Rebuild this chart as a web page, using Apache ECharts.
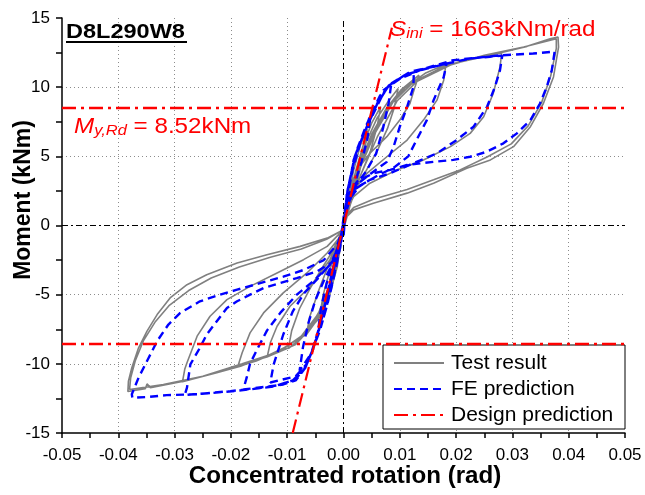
<!DOCTYPE html>
<html>
<head>
<meta charset="utf-8">
<script src="https://cdn.jsdelivr.net/npm/echarts@6/dist/echarts.min.js"></script>
<style>html,body{margin:0;padding:0;background:#fff;}#chart{width:645px;height:495px;}</style>
</head>
<body>
<div id="chart"></div>
<script>
// ---------- axis ticks ----------
const xTicks = [-0.05, -0.04, -0.03, -0.02, -0.01, 0.00, 0.01, 0.02, 0.03, 0.04, 0.05];
const yTicks = [-15, -10, -5, 0, 5, 10, 15];

// ---------- Test result (rotation rad, moment kNm), cycle by cycle ----------
const testCycle1 = [[0,0],[0.0008,2.0],[0.0018,4.0],[0.003,5.8],[0.0042,7.0],[0.0038,5.6],[0.0028,3.8],[0.0015,2.0],[0.0004,0.5],[0,0],
  [-0.0006,-1.8],[-0.0016,-3.6],[-0.003,-5.4],[-0.0042,-6.5],[-0.0036,-5.0],[-0.0024,-3.2],[-0.0012,-1.6],[0,0]];
const testCycle2 = [[0.001,2.0],[0.0022,4.0],[0.0035,5.8],[0.005,7.4],[0.0066,8.6],[0.006,7.2],[0.0048,5.4],[0.003,3.6],[0.0012,1.8],[0,0.2],
  [-0.0008,-2.0],[-0.002,-4.0],[-0.0035,-5.8],[-0.005,-7.0],[-0.0066,-7.9],[-0.006,-6.6],[-0.0045,-4.8],[-0.0028,-3.0],[-0.0012,-1.5],[0,-0.1]];
const testCycle3 = [[0.0012,2.2],[0.0025,4.2],[0.004,6.0],[0.006,7.8],[0.008,9.0],[0.0097,9.9],[0.009,8.5],[0.0078,7.0],[0.006,5.4],[0.0038,3.8],[0.0018,2.3],[0.0004,0.8],[0,0.2],
  [-0.001,-2.2],[-0.0025,-4.4],[-0.004,-6.0],[-0.006,-7.4],[-0.008,-8.3],[-0.0098,-8.9],[-0.0092,-7.6],[-0.0078,-6.0],[-0.006,-4.6],[-0.004,-3.2],[-0.002,-1.9],[-0.0005,-0.6],[0,-0.1]];
const testCycle4 = [[0.0014,2.4],[0.003,4.6],[0.005,6.6],[0.0075,8.4],[0.0102,9.8],[0.0134,10.87],[0.0127,10.02],[0.0118,8.82],[0.01,7.62],[0.0077,6.42],[0.0047,5.22],[0.0024,4.02],[0.0008,2.4],[0,0.6],
  [-0.0006,-1.6],[-0.002,-4.0],[-0.0038,-6.0],[-0.006,-7.5],[-0.0085,-8.6],[-0.0112,-9.1],[-0.0135,-9.4],[-0.013,-8.48],[-0.0118,-7.28],[-0.0095,-5.84],[-0.0059,-4.4],[-0.0024,-2.47],[-0.0005,-0.8],[0,-0.2]];
const testCycle5 = [[0.0012,2.2],[0.0028,4.4],[0.005,6.6],[0.0078,8.5],[0.011,10.0],[0.0145,11.0],[0.0182,11.66],[0.0178,10.5],[0.0166,9.06],[0.0142,7.62],[0.0113,6.18],[0.0077,4.97],[0.0042,3.78],[0.0018,2.57],[0.0003,1.1],[0,0.4],
  [-0.0006,-1.6],[-0.0022,-4.2],[-0.004,-6.2],[-0.0065,-7.8],[-0.0095,-8.8],[-0.0136,-9.5],[-0.0187,-10.1],[-0.018,-9.2],[-0.0166,-7.76],[-0.0142,-6.32],[-0.0107,-4.87],[-0.0065,-3.43],[-0.0029,-1.99],[-0.0006,-0.79],[0,-0.3]];
const testCycle6 = [[0.0012,2.0],[0.003,4.4],[0.0055,6.8],[0.0085,8.8],[0.012,10.2],[0.0165,11.2],[0.0215,12.0],[0.0281,12.47],[0.0278,11.46],[0.0266,9.55],[0.0249,7.86],[0.0225,6.66],[0.019,5.7],[0.0142,4.74],[0.0095,4.02],[0.0047,3.06],[0.0018,2.09],[0.0003,0.89],[0,0.3],
  [-0.0005,-1.4],[-0.0022,-4.0],[-0.0045,-6.4],[-0.0075,-8.0],[-0.011,-9.0],[-0.0155,-9.8],[-0.0225,-10.64],[-0.0286,-11.3],[-0.0282,-10.4],[-0.0278,-9.92],[-0.026,-8.0],[-0.0237,-6.56],[-0.0207,-5.36],[-0.0166,-4.4],[-0.0118,-3.43],[-0.0071,-2.47],[-0.0029,-1.51],[-0.0005,-0.5],[0,-0.2]];
const testCycle7 = [[0.001,1.6],[0.0028,4.0],[0.0055,6.6],[0.0089,9.0],[0.0125,10.4],[0.0184,11.6],[0.0249,12.2],[0.0326,12.95],[0.0367,13.5],[0.0381,13.63],[0.0382,12.9],[0.0373,10.74],[0.0355,8.82],[0.0332,7.14],[0.0302,5.7],[0.0261,4.74],[0.0219,4.14],[0.016,3.06],[0.0113,2.34],[0.0053,1.61],[0.0018,1.13],[0,0.41],
  [-0.0004,-1.0],[-0.0011,-2.96],[-0.0026,-5.2],[-0.0045,-6.8],[-0.007,-7.9],[-0.0099,-8.7],[-0.0136,-9.44],[-0.0183,-10.17],[-0.0225,-10.64],[-0.0284,-11.25],[-0.0343,-11.72],[-0.0349,-11.45],[-0.0352,-11.8],[-0.0383,-12.0],
  [-0.0382,-11.25],[-0.0376,-10.28],[-0.0364,-8.84],[-0.0349,-7.64],[-0.0331,-6.44],[-0.0308,-5.24],[-0.0278,-4.28],[-0.0243,-3.56],[-0.0189,-2.71],[-0.0136,-2.11],[-0.0077,-1.51],[-0.0029,-0.91],[0,-0.31]];
const testCycle8 = [[0.0012,1.5],[0.003,3.6],[0.006,6.4],[0.0095,9.0],[0.013,10.4],[0.019,11.6],[0.025,12.3],[0.032,12.9],[0.0378,13.5],[0.0378,12.8],[0.0368,10.8],[0.0352,8.9],[0.0328,7.2],[0.0298,5.9],[0.0255,4.95],[0.0207,4.02],[0.016,3.3],[0.0113,2.6],[0.0053,1.9],[0.0018,1.3],[0,0.5],
  [-0.0008,-2.2],[-0.0026,-5.0],[-0.005,-7.0],[-0.008,-8.2],[-0.012,-9.2],[-0.018,-10.0],[-0.025,-10.9],[-0.032,-11.5],[-0.038,-11.85],[-0.0378,-11.0],[-0.037,-9.8],[-0.0355,-8.3],[-0.0335,-7.0],[-0.031,-5.8],[-0.0275,-4.7],[-0.0235,-3.8],[-0.0185,-3.0],[-0.013,-2.3],[-0.0075,-1.7],[-0.003,-1.0],[0,-0.3]];

// ---------- FE prediction ----------
const feCycle1 = [[0,0],[0.0006,1.8],[0.0014,3.8],[0.0025,5.6],[0.004,7.2],[0.0048,7.9],[0.0042,6.2],[0.0032,4.6],[0.0018,2.8],[0.0005,1.0],[0,0.1],
  [-0.0005,-1.2],[-0.0012,-2.8],[-0.0022,-4.6],[-0.0035,-6.6],[-0.0045,-7.6],[-0.004,-6.0],[-0.003,-4.2],[-0.0018,-2.6],[-0.0006,-1.0],[0,0]];
const feCycle2 = [[0.0006,1.9],[0.0016,4.0],[0.003,6.0],[0.0048,8.0],[0.0065,9.4],[0.0085,10.3],[0.008,8.8],[0.007,7.0],[0.0058,5.2],[0.004,3.9],[0.002,2.8],[0.0006,1.6],[0,0.2],
  [-0.0006,-1.6],[-0.0016,-3.4],[-0.0028,-5.6],[-0.0042,-7.6],[-0.0058,-9.3],[-0.0078,-10.5],[-0.0072,-8.8],[-0.0062,-7.0],[-0.005,-5.4],[-0.0035,-4.0],[-0.002,-2.8],[-0.0006,-1.4],[0,-0.2]];
const feCycle3 = [[0.0006,2.0],[0.0018,4.74],[0.0036,6.66],[0.0053,8.34],[0.0071,9.78],[0.0095,10.5],[0.0125,11.1],[0.0124,10.0],[0.0113,8.58],[0.01,7.14],[0.0089,5.7],[0.0077,4.6],[0.005,3.8],[0.0025,3.0],[0.0008,1.8],[0,0.2],
  [-0.0007,-1.27],[-0.0018,-2.96],[-0.0029,-5.0],[-0.0041,-7.2],[-0.0053,-8.84],[-0.0065,-10.0],[-0.0085,-10.9],[-0.013,-11.35],[-0.0124,-10.04],[-0.0107,-7.88],[-0.009,-6.2],[-0.007,-4.9],[-0.0045,-3.8],[-0.002,-2.6],[0,-0.5]];
const feCycle4 = [[0.0006,2.3],[0.002,4.9],[0.0038,6.8],[0.0058,8.5],[0.0075,9.9],[0.01,10.6],[0.014,11.3],[0.0183,11.7],[0.0178,10.74],[0.016,9.06],[0.0148,7.62],[0.013,6.2],[0.0115,5.0],[0.009,4.2],[0.006,3.6],[0.003,2.9],[0.001,1.9],[0,0.3],
  [-0.0007,-1.4],[-0.0018,-3.2],[-0.003,-5.2],[-0.0042,-7.3],[-0.0055,-9.0],[-0.0068,-10.3],[-0.0085,-11.1],[-0.0115,-11.55],[-0.0178,-11.85],[-0.0172,-11.0],[-0.0166,-10.0],[-0.0154,-9.0],[-0.0136,-7.6],[-0.0112,-6.3],[-0.0083,-5.0],[-0.0053,-4.0],[-0.0024,-2.84],[0,-0.8]];
const feCycle5 = [[0.0007,2.5],[0.002,5.0],[0.004,7.0],[0.006,8.8],[0.008,10.1],[0.011,10.9],[0.0148,11.35],[0.0184,11.71],[0.0225,12.07],[0.0282,12.28],[0.0278,11.23],[0.0269,10.02],[0.0255,8.58],[0.0231,7.14],[0.0201,6.18],[0.0166,5.22],[0.0124,4.5],[0.0083,3.78],[0.0047,3.3],[0.0018,2.57],[0,0.5],
  [-0.0007,-1.6],[-0.0019,-3.4],[-0.0031,-5.4],[-0.0044,-7.5],[-0.0057,-9.2],[-0.007,-10.4],[-0.009,-11.2],[-0.0125,-11.65],[-0.0178,-11.9],[-0.0231,-12.1],[-0.0282,-12.25],
  [-0.0278,-11.72],[-0.0272,-10.04],[-0.0255,-8.84],[-0.0243,-7.88],[-0.0225,-6.92],[-0.0207,-5.96],[-0.0189,-5.48],[-0.0166,-5.0],[-0.0142,-4.52],[-0.0112,-4.15],[-0.0083,-3.8],[-0.0047,-3.32],[-0.0018,-2.6],[0,-0.5]];
const feCycle6 = [[0.0008,2.7],[0.0022,5.2],[0.0042,7.2],[0.0062,9.0],[0.0082,10.2],[0.0118,11.1],[0.0148,11.4],[0.0195,11.95],[0.0278,12.3],[0.0337,12.43],[0.0375,12.57],
  [0.037,11.23],[0.0361,10.02],[0.0349,8.82],[0.0332,7.62],[0.0308,6.66],[0.0284,5.94],[0.0255,5.34],[0.0225,4.97],[0.0195,4.74],[0.016,4.6],[0.0113,4.38],[0.0083,4.02],[0.0053,3.78],[0.0024,3.17],[0.0006,2.09],[0,0.5],
  [-0.0007,-1.5],[-0.0018,-3.3],[-0.003,-5.3],[-0.0043,-7.4],[-0.0056,-9.1],[-0.0068,-10.3],[-0.0085,-11.2],[-0.0107,-11.49],[-0.0142,-11.72],[-0.0201,-11.97],[-0.026,-12.2],[-0.0314,-12.26],[-0.0349,-12.4],[-0.0375,-12.45],
  [-0.0376,-12.2],[-0.0364,-11.0],[-0.0346,-9.56],[-0.0331,-8.36],[-0.0311,-7.16],[-0.029,-6.32],[-0.0255,-5.48],[-0.0219,-5.0],[-0.0189,-4.64],[-0.0142,-4.1],[-0.0107,-3.7],[-0.007,-3.2],[-0.0035,-2.5],[-0.001,-1.3],[0,0]];

// ---------- Design prediction ----------
const designMyRd = 8.52;                         // kNm
const designSiniLine = [[-0.00902,-15],[0.0086,14.3]]; // Sini = 1663 kNm/rad line

const testPath = [].concat(testCycle1, testCycle2, testCycle3, testCycle4, testCycle5, testCycle6, testCycle7, testCycle8);
const fePath = [].concat(feCycle1, feCycle2, feCycle3, feCycle4, feCycle5, feCycle6);

const FONT = '"Liberation Sans", Arial, sans-serif';
const gridGray = '#8c8c8c';
const xGridColors = xTicks.map((v, i) => (i === 0 || i === xTicks.length - 1 || Math.abs(v) < 1e-9) ? 'rgba(0,0,0,0)' : gridGray);
const yGridColors = yTicks.map((v, i) => (i === 0 || i === yTicks.length - 1 || v === 0) ? 'rgba(0,0,0,0)' : gridGray);

const chart = echarts.init(document.getElementById('chart'), null, {renderer: 'canvas'});
chart.setOption({
  animation: false,
  backgroundColor: '#fff',
  grid: {left: 62, right: 20, top: 18, bottom: 62, containLabel: false},
  xAxis: {
    type: 'value', min: -0.05, max: 0.05, interval: 0.01,
    axisLine: {show: true, onZero: false, lineStyle: {color: '#000', width: 1.5}},
    axisTick: {show: true, inside: false, length: 5, lineStyle: {color: '#000', width: 1.5}},
    minorTick: {show: true, splitNumber: 2, length: 5, lineStyle: {color: '#000', width: 1.5}},
    axisLabel: {color: '#000', fontSize: 17, fontFamily: FONT, margin: 14, formatter: v => v.toFixed(2)},
    splitLine: {show: true, lineStyle: {color: xGridColors, type: [1, 3], width: 1}}
  },
  yAxis: {
    type: 'value', min: -15, max: 15, interval: 5,
    axisLine: {show: true, onZero: false, lineStyle: {color: '#000', width: 1.5}},
    axisTick: {show: true, inside: false, length: 6, lineStyle: {color: '#000', width: 1.5}},
    minorTick: {show: true, splitNumber: 2, length: 6, lineStyle: {color: '#000', width: 1.5}},
    axisLabel: {color: '#000', fontSize: 17, fontFamily: FONT, margin: 12},
    splitLine: {show: true, lineStyle: {color: yGridColors, type: [1, 3], width: 1}}
  },
  legend: {
    orient: 'vertical', left: 383, top: 345,
    backgroundColor: '#fff', borderColor: '#000', borderWidth: 1, borderRadius: 0,
    padding: [7, 6, 3, 10], itemGap: 4, itemWidth: 50, itemHeight: 14,
    itemStyle: {opacity: 0},
    textStyle: {color: '#000', fontSize: 21, fontFamily: FONT, lineHeight: 22, width: 168, padding: [0, 0, 0, 2]},
    data: ['Test result', 'FE prediction', 'Design prediction']
  },
  series: [
    {
      name: 'Test result', type: 'line', data: testPath, symbol: 'none', showSymbol: false,
      lineStyle: {color: '#808080', width: 1.6}, itemStyle: {color: '#808080'}, z: 2,
      markLine: {
        silent: true, symbol: ['none', 'none'], label: {show: false},
        lineStyle: {color: '#000', width: 1, type: [6, 3, 2, 3]},
        data: [{xAxis: 0}, {yAxis: 0}]
      }
    },
    {
      name: 'FE prediction', type: 'line', data: fePath, symbol: 'none', showSymbol: false,
      lineStyle: {color: '#0000ff', width: 2.4, type: [8, 5]}, itemStyle: {color: '#0000ff'}, z: 3
    },
    {
      name: 'Design prediction', type: 'line', data: designSiniLine, symbol: 'none', showSymbol: false,
      lineStyle: {color: '#ff0000', width: 2.2, type: [14, 5, 3, 5]}, itemStyle: {color: '#ff0000'}, z: 4,
      markLine: {
        silent: true, symbol: ['none', 'none'], label: {show: false},
        lineStyle: {color: '#ff0000', width: 2.4, type: [14, 5, 3, 5]},
        data: [{yAxis: designMyRd}, {yAxis: -designMyRd}]
      }
    }
  ],
  graphic: [
    {type: 'text', x: 66, y: 22, scaleX: 1.12, z: 10,
     style: {text: 'D8L290W8', font: 'bold 21px ' + FONT, fill: '#000'}},
    {type: 'line', z: 10, shape: {x1: 66, y1: 42, x2: 187, y2: 42}, style: {stroke: '#000', lineWidth: 1.8}},
    {type: 'text', x: 390, y: 17, scaleX: 1.1, z: 10,
     style: {
       text: '{i|S}{s|ini}{n| = 1663kNm/rad}', fill: '#ff0000',
       rich: {
         i: {fontFamily: FONT, fontStyle: 'italic', fontSize: 22, fill: '#ff0000', lineHeight: 24, verticalAlign: 'bottom'},
         s: {fontFamily: FONT, fontStyle: 'italic', fontSize: 15, fill: '#ff0000', lineHeight: 16, verticalAlign: 'bottom'},
         n: {fontFamily: FONT, fontSize: 22, fill: '#ff0000', lineHeight: 24, verticalAlign: 'bottom'}
       }
     }},
    {type: 'text', x: 74, y: 114, scaleX: 1.1, z: 10,
     style: {
       text: '{i|M}{s|y,Rd}{n| = 8.52kNm}', fill: '#ff0000',
       rich: {
         i: {fontFamily: FONT, fontStyle: 'italic', fontSize: 22, fill: '#ff0000', lineHeight: 24, verticalAlign: 'bottom'},
         s: {fontFamily: FONT, fontStyle: 'italic', fontSize: 15, fill: '#ff0000', lineHeight: 16, verticalAlign: 'bottom'},
         n: {fontFamily: FONT, fontSize: 22, fill: '#ff0000', lineHeight: 24, verticalAlign: 'bottom'}
       }
     }},
    {type: 'text', x: 345, y: 477, scaleX: 1.05, z: 10,
     style: {text: 'Concentrated rotation (rad)', font: 'bold 23px ' + FONT, fill: '#000', align: 'center', verticalAlign: 'middle'}},
    {type: 'text', x: 24, y: 200, rotation: Math.PI / 2, z: 10,
     style: {text: 'Moment (kNm)', font: 'bold 23px ' + FONT, fill: '#000', align: 'center', verticalAlign: 'middle'}}
  ]
});
</script>
</body>
</html>
